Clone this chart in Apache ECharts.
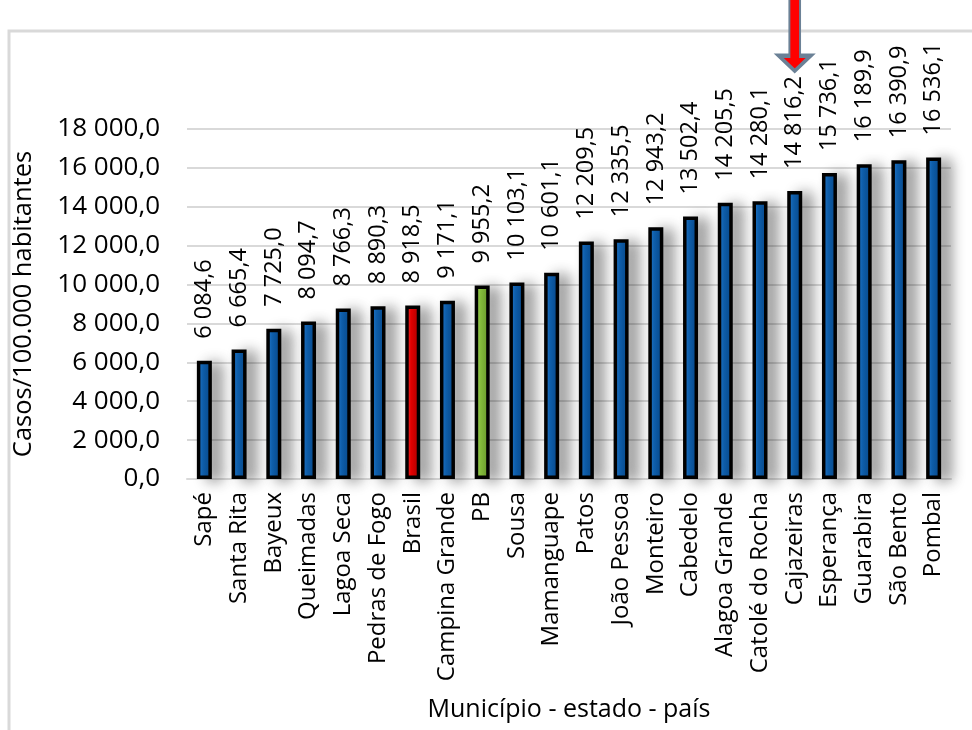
<!DOCTYPE html>
<html>
<head>
<meta charset="utf-8">
<script src="https://cdn.jsdelivr.net/npm/echarts@6/dist/echarts.min.js"></script>
<style>
html,body{margin:0;padding:0;background:#fff;}
#chart{width:972px;height:730px;}
</style>
</head>
<body>
<div id="chart"></div>
<script>
const categories = ['Sapé','Santa Rita','Bayeux','Queimadas','Lagoa Seca','Pedras de Fogo','Brasil','Campina Grande','PB','Sousa','Mamanguape','Patos','João Pessoa','Monteiro','Cabedelo','Alagoa Grande','Catolé do Rocha','Cajazeiras','Esperança','Guarabira','São Bento','Pombal'];
const values = [6084.6,6665.4,7725.0,8094.7,8766.3,8890.3,8918.5,9171.1,9955.2,10103.1,10601.1,12209.5,12335.5,12943.2,13502.4,14205.5,14280.1,14816.2,15736.1,16189.9,16390.9,16536.1];
const highlightRed = 'Brasil';
const highlightGreen = 'PB';
const arrowTarget = 'Cajazeiras';
const yMin = 0, yMax = 18000, yStep = 2000;

function fmt(v){
  const s = Number(v).toFixed(1);
  const parts = s.split('.');
  const intPart = parts[0].replace(/\B(?=(\d{3})+(?!\d))/g, ' ');
  return intPart + ',' + parts[1];
}
function grad(c1, c2, c3){
  return new echarts.graphic.LinearGradient(0,0,1,0,[
    {offset:0,color:c1},{offset:0.4,color:c2},{offset:1,color:c3}
  ]);
}
const blueFill = grad('#2a80d6','#0f64b5','#094f98');
const redFill = grad('#ff3a3a','#ee0000','#c00000');
const greenFill = grad('#a6dc60','#8cc63f','#72a830');

const barData = categories.map((c,i)=>{
  let fill = blueFill;
  if (c === highlightRed) fill = redFill;
  if (c === highlightGreen) fill = greenFill;
  return {value: values[i], itemStyle:{color: fill}};
});
const arrowIdx = categories.indexOf(arrowTarget);

const chart = echarts.init(document.getElementById('chart'), null, {renderer:'canvas'});
chart.setOption({
  backgroundColor:'#fff',
  animation:false,
  textStyle:{fontFamily:'Open Sans'},
  grid:{left:187, right:21, top:129, bottom:251, containLabel:false},
  graphic:[{
    type:'rect', z:-10, silent:true,
    shape:{x:9,y:31,width:1100,height:1100},
    style:{fill:'none', stroke:'#d9d9d9', lineWidth:3}
  }],
  xAxis:{
    type:'category', data:categories,
    name:'Município - estado - país', nameLocation:'middle', nameGap:218,
    nameTextStyle:{fontSize:25, color:'#000', fontFamily:'Open Sans'},
    axisLine:{show:true, lineStyle:{color:'#d9d9d9', width:2}},
    axisTick:{show:false},
    axisLabel:{interval:0, rotate:90, margin:13, fontSize:24, color:'#000', fontFamily:'Open Sans'}
  },
  yAxis:{
    type:'value', min:yMin, max:yMax, interval:yStep,
    name:'Casos/100.000 habitantes', nameLocation:'middle', nameGap:150, nameRotate:90,
    nameTextStyle:{fontSize:25.5, color:'#000', fontFamily:'Open Sans'},
    axisLine:{show:false}, axisTick:{show:false},
    axisLabel:{formatter:fmt, fontSize:26, color:'#000', margin:27, fontFamily:'Open Sans'},
    splitLine:{show:true, lineStyle:{color:'#d9d9d9', width:2}}
  },
  series:[{
    type:'bar', data:barData, barWidth:15,
    itemStyle:{borderColor:'#000', borderWidth:3.5,
      shadowColor:'rgba(0,0,0,0.38)', shadowBlur:14, shadowOffsetX:10, shadowOffsetY:2},
    label:{show:true, position:'top', rotate:90, align:'left', verticalAlign:'middle',
      distance:22, formatter:p=>fmt(p.value), fontSize:23.5, color:'#000', fontFamily:'Open Sans'},
    markPoint:{
      silent:true,
      symbol:'path://M10,0 L20,0 L20,80 L30,80 L15,100 L0,80 L10,80 Z',
      symbolSize:[32,76],
      symbolKeepAspect:false,
      symbolOffset:[0,-158],
      itemStyle:{color:'#ff0000', borderColor:'#6b8196', borderWidth:3, shadowBlur:0, shadowOffsetX:0, shadowOffsetY:0},
      label:{show:false},
      data:[{coord:[arrowIdx, values[arrowIdx]]}]
    }
  }]
});
</script>
</body>
</html>
